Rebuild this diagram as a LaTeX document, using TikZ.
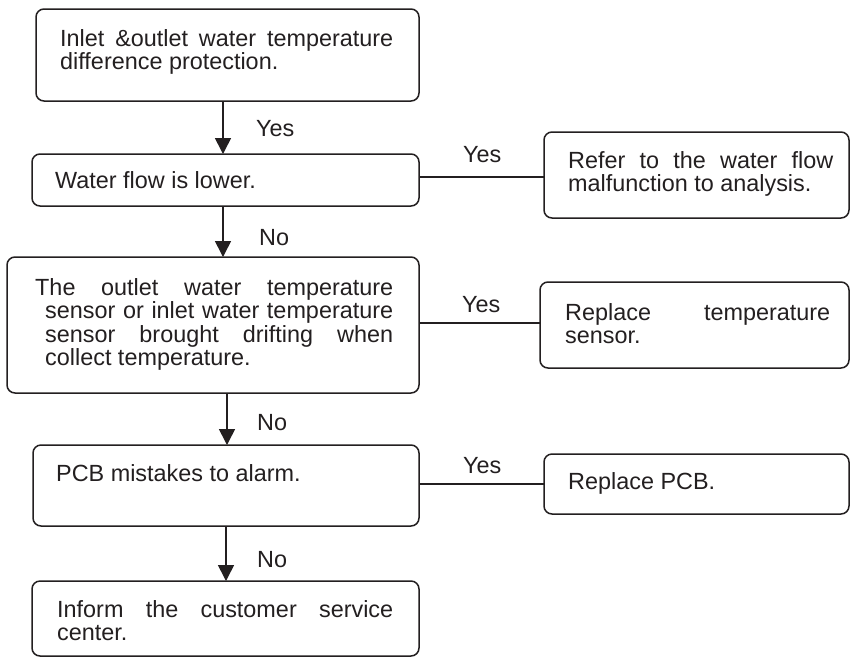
\documentclass[tikz,border=0pt]{standalone}
\usepackage{fontspec}
\setmainfont{Liberation Sans}
\usetikzlibrary{arrows.meta}
\definecolor{ink}{RGB}{35,31,32}
\newcommand{\fs}{\fontsize{23.4pt}{23.5pt}\selectfont}
\newcommand{\hs}{\hyphenpenalty=10000\relax\exhyphenpenalty=10000\relax\parindent=0pt\relax\rule{0pt}{20pt}}
\begin{document}
\begin{tikzpicture}[x=1pt,y=-1pt,
  box/.style={draw=ink, line width=1.5pt, rounded corners=8pt, inner sep=0pt, outer sep=0pt},
  txt/.style={anchor=north west, inner sep=0pt, font=\fs, text=ink, align=justify},
  lbl/.style={anchor=base west, inner sep=0pt, font=\fs, text=ink},
  arr/.style={draw=ink, line width=1.6pt, -{Triangle[length=16pt,width=16pt]}},
  con/.style={draw=ink, line width=1.4pt}]
\fill[white] (0,0) rectangle (851,657);
\useasboundingbox (0,0) rectangle (851,657);

% boxes
\node[box, minimum width=383pt, minimum height=92pt] (b1) at (227.5,55) {};
\node[box, minimum width=387pt, minimum height=52pt] (b2) at (225.5,180) {};
\node[box, minimum width=305pt, minimum height=86pt] (b2r) at (696.5,175) {};
\node[box, minimum width=412pt, minimum height=136pt] (b3) at (213,325) {};
\node[box, minimum width=309pt, minimum height=86pt] (b3r) at (694.5,325) {};
\node[box, minimum width=386pt, minimum height=81pt] (b4) at (226,485.5) {};
\node[box, minimum width=305pt, minimum height=60pt] (b4r) at (696.5,484) {};
\node[box, minimum width=387pt, minimum height=75pt] (b5) at (225.5,618.5) {};

% texts
\node[txt, text width=333pt] (t1) at (60,26) {\hs Inlet \&outlet water temperature\linebreak difference protection.};
\node[lbl] (t2) at (55,188) {Water flow is lower.};
\node[txt, text width=265pt] (t2r) at (568,148) {\hs Refer to the water flow\linebreak malfunction to analysis.};
\node[txt, text width=348pt] (t3) at (45,275) {\hs\hspace*{-10pt}The outlet water temperature\linebreak sensor or inlet water temperature\linebreak sensor brought drifting when\linebreak collect temperature.};
\node[txt, text width=265pt] (t3r) at (565,300) {\hs Replace temperature\linebreak sensor.};
\node[lbl] (t4) at (56,481) {PCB mistakes to alarm.};
\node[lbl] (t4r) at (568,489) {Replace PCB.};
\node[txt, text width=336pt] (t5) at (57,597) {\hs Inform the customer service\linebreak center.};

% vertical arrows
\draw[arr] ([xshift=-4.5pt]b1.south) -- ([xshift=-4.5pt]b1.south |- b2.north);
\draw[arr] ([xshift=-2.5pt]b2.south) -- ([xshift=-2.5pt]b2.south |- b3.north);
\draw[arr] ([xshift=14pt]b3.south) -- ([xshift=14pt]b3.south |- b4.north);
\draw[arr] (b4.south) -- (b4.south |- b5.north);

% horizontal connectors
\draw[con] ([yshift=-2pt]b2r.west -| b2.east) -- ([yshift=-2pt]b2r.west);
\draw[con] ([yshift=2pt]b3r.west -| b3.east) -- ([yshift=2pt]b3r.west);
\draw[con] (b4r.west -| b4.east) -- (b4r.west);

% labels
\node[lbl] (y1) at (256,136) {Yes};
\node[lbl] (n2) at (259,245) {No};
\node[lbl] (y2) at (463,162) {Yes};
\node[lbl] (y3) at (462,312) {Yes};
\node[lbl] (n3) at (257,430) {No};
\node[lbl] (y4) at (463,473) {Yes};
\node[lbl] (n4) at (257,567) {No};
\end{tikzpicture}
\end{document}
